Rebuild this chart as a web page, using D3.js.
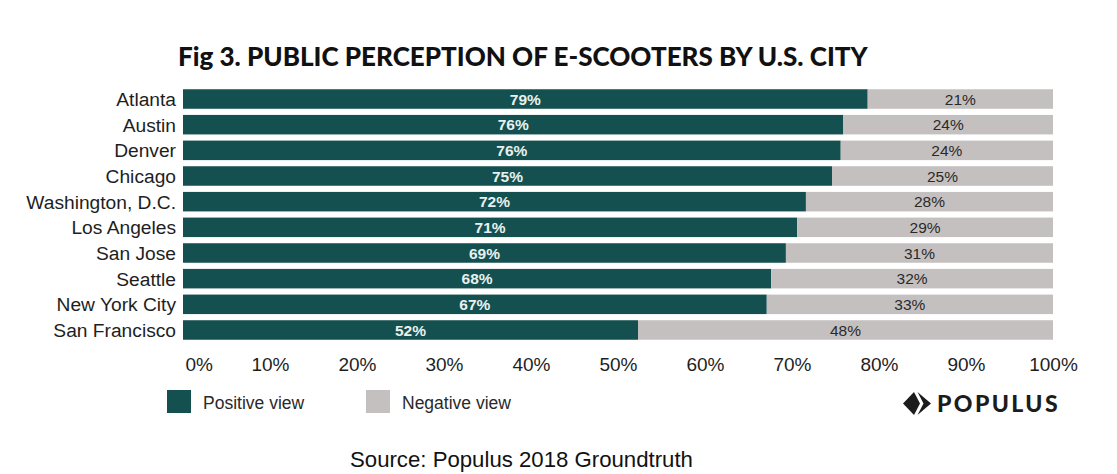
<!DOCTYPE html>
<html>
<head>
<meta charset="utf-8">
<script src="https://cdn.jsdelivr.net/npm/d3@7"></script>
<style>
  html, body { margin: 0; padding: 0; background: #fff; }
  svg { display: block; }
</style>
</head>
<body>
<svg id="chart" width="1117" height="474"></svg>
<script>
const title = "Fig 3. PUBLIC PERCEPTION OF E-SCOOTERS BY U.S. CITY";
const cities = ["Atlanta", "Austin", "Denver", "Chicago", "Washington, D.C.", "Los Angeles", "San Jose", "Seattle", "New York City", "San Francisco"];
const positive = [78.7, 75.9, 75.6, 74.6, 71.6, 70.6, 69.3, 67.6, 67.1, 52.3];
const negative = [21.3, 24.1, 24.4, 25.4, 28.4, 29.4, 30.7, 32.4, 32.9, 47.7];
const tickValues = [0, 10, 20, 30, 40, 50, 60, 70, 80, 90, 100];
const seriesNames = ["Positive view", "Negative view"];
const colors = ["#14504f", "#c5c0c0"];
const sourceText = "Source: Populus 2018 Groundtruth";
const brand = "POPULUS";

const svg = d3.select("#chart");
const sans = "'Liberation Sans', Arial, Helvetica, sans-serif";

const x = d3.scaleLinear().domain([0, 100]).range([183, 1053]);
const y = d3.scaleBand().domain(cities).range([83.1, 345.9]).padding(0.24);

// Title
const t = svg.append("text")
  .attr("x", 178).attr("y", 66)
  .attr("font-family", "Lato, sans-serif")
  .attr("font-weight", 900)
  .attr("font-size", 25)
  .attr("fill", "#111")
  .text(title);
const tw = t.node().getComputedTextLength();
t.attr("font-size", 25 * 690 / tw);

// Bars
const rows = cities.map((c, i) => ({ city: c, pos: positive[i], neg: negative[i] }));
const g = svg.append("g");
g.selectAll("rect.pos").data(rows).join("rect")
  .attr("class", "pos")
  .attr("x", x(0))
  .attr("y", d => y(d.city))
  .attr("width", d => x(d.pos) - x(0))
  .attr("height", y.bandwidth())
  .attr("fill", colors[0]);
g.selectAll("rect.neg").data(rows).join("rect")
  .attr("class", "neg")
  .attr("x", d => x(d.pos))
  .attr("y", d => y(d.city))
  .attr("width", d => x(d.pos + d.neg) - x(d.pos))
  .attr("height", y.bandwidth())
  .attr("fill", colors[1]);

// Bar labels
g.selectAll("text.posl").data(rows).join("text")
  .attr("x", d => (x(0) + x(d.pos)) / 2)
  .attr("y", d => y(d.city) + y.bandwidth() / 2)
  .attr("dy", "0.36em")
  .attr("text-anchor", "middle")
  .attr("font-family", sans).attr("font-size", 15.5).attr("font-weight", "bold")
  .attr("fill", "#e8f0ef")
  .text(d => Math.round(d.pos) + "%");
g.selectAll("text.negl").data(rows).join("text")
  .attr("x", d => (x(d.pos) + x(d.pos + d.neg)) / 2)
  .attr("y", d => y(d.city) + y.bandwidth() / 2)
  .attr("dy", "0.36em")
  .attr("text-anchor", "middle")
  .attr("font-family", sans).attr("font-size", 15.5)
  .attr("fill", "#2a2a2a")
  .text(d => Math.round(d.neg) + "%");

// Y axis (city labels)
const yAxis = svg.append("g")
  .attr("transform", "translate(176,0)")
  .call(d3.axisLeft(y).tickSize(0).tickPadding(0));
yAxis.select(".domain").remove();
yAxis.selectAll("text")
  .attr("font-family", sans).attr("font-size", 19.2).attr("fill", "#1e1e1e")
  .attr("dy", "0.36em");

// X axis
const xAxis = svg.append("g")
  .attr("transform", "translate(0,357)")
  .call(d3.axisBottom(x).tickValues(tickValues).tickFormat(d => d + "%").tickSize(0).tickPadding(0));
xAxis.select(".domain").remove();
xAxis.selectAll("text")
  .attr("font-family", sans).attr("font-size", 19).attr("fill", "#1e1e1e")
  .attr("dy", "0.72em");
xAxis.selectAll(".tick").filter(d => d === 0).select("text")
  .attr("text-anchor", "start").attr("x", 2);

// Legend
const legendX = [167, 366];
const leg = svg.append("g");
seriesNames.forEach((name, i) => {
  leg.append("rect")
    .attr("x", legendX[i]).attr("y", 390)
    .attr("width", 24).attr("height", 23)
    .attr("fill", colors[i]);
  leg.append("text")
    .attr("x", legendX[i] + 36).attr("y", 409)
    .attr("font-family", sans).attr("font-size", 17.5).attr("fill", "#2a2a2a")
    .text(name);
});

// Logo
const logo = svg.append("g").attr("fill", "#1c1c1c");
logo.append("path").attr("d", "M903,403.5 L914,392 L920,403.5 L914,415 Z");
logo.append("path").attr("d", "M917.5,392 L931,403.5 L917.5,415 L923.5,403.5 Z");
const lt = logo.append("text")
  .attr("x", 937).attr("y", 412)
  .attr("font-family", "Lato, sans-serif").attr("font-weight", 900)
  .attr("font-size", 23).attr("letter-spacing", 3)
  .text(brand);
const lw = lt.node().getComputedTextLength();
lt.attr("letter-spacing", 3 + (123 - lw) / (brand.length));

// Source
const st = svg.append("text")
  .attr("x", 350).attr("y", 467)
  .attr("font-family", sans).attr("font-size", 22).attr("fill", "#111")
  .text(sourceText);
const sw = st.node().getComputedTextLength();
st.attr("font-size", 22 * 343 / sw);
</script>
</body>
</html>
